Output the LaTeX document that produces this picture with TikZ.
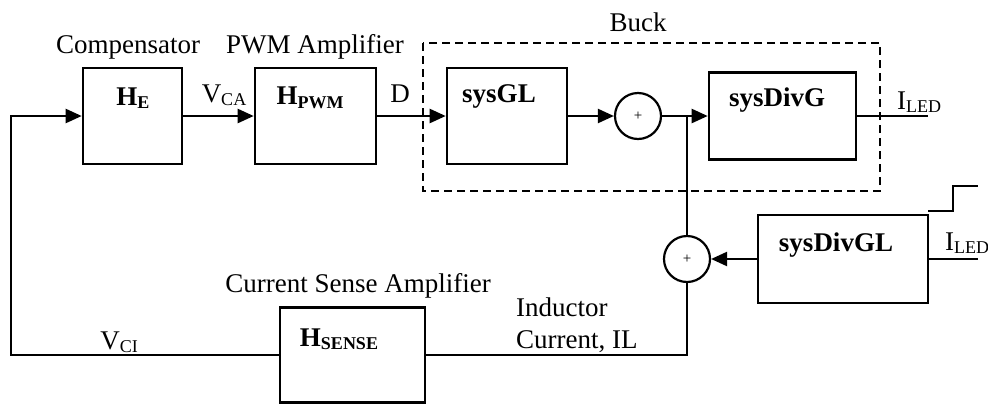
\documentclass[tikz,border=0pt]{standalone}
\usepackage{fontspec}
\setmainfont{Liberation Serif}
\usetikzlibrary{arrows.meta}
\newcommand{\mysub}[1]{\raisebox{-0.28ex}{\fontsize{18}{20}\selectfont #1}}
\begin{document}
\begin{tikzpicture}[x=1pt,y=-1pt,
  font=\fontsize{27}{32}\selectfont,
  blk/.style={draw, line width=2.6pt, inner sep=0pt},
  sumc/.style={draw, circle, line width=2.2pt, minimum size=46pt, inner sep=0pt, font=\fontsize{15}{16}\selectfont},
  wire/.style={line width=2.3pt},
  arr/.style={wire, -{Triangle[length=16pt,width=14pt]}},
  txt/.style={inner sep=0pt},
  btxt/.style={inner sep=0pt, font=\fontsize{27}{32}\selectfont\bfseries}]
\useasboundingbox (0,0) rectangle (988,405);
% blocks
\node[blk, minimum width=99pt, minimum height=96pt] (he) at (132.5,116) {};
\node[blk, minimum width=121pt, minimum height=96pt] (hpwm) at (315.5,116) {};
\node[blk, minimum width=120pt, minimum height=96pt] (gl) at (507,116) {};
\node[blk, minimum width=147pt, minimum height=87pt] (divg) at (782.5,116) {};
\node[blk, minimum width=170pt, minimum height=88pt] (divgl) at (843,259) {};
\node[blk, minimum width=145pt, minimum height=95pt] (sense) at (352.5,355) {};
\node[sumc] (s1) at (638,116) {+};
\node[sumc] (s2) at (687,259) {+};
% block texts
\node[btxt] (heT) at (133,98) {H\mysub{E}};
\node[btxt] (hpwmT) at (310,98) {H\mysub{PWM}};
\node[btxt] (glT) at (499,96) {sysGL};
\node[btxt] (divgT) at (777,100) {sysDivG};
\node[btxt] (divglT) at (836,245) {sysDivGL};
\node[btxt] (senseT) at (339,339) {H\mysub{SENSE}};
% labels
\node[txt] (compL) at (128,47) {Compensator};
\node[txt] (pwmL) at (315,47) {PWM Amplifier};
\node[txt] (buckL) at (638,22) {Buck};
\node[txt] (csaL) at (358,286) {Current Sense Amplifier};
\node[txt] (vcaL) at (224,95) {V\mysub{CA}};
\node[txt] (dL) at (400,94) {D};
\node[txt] (iled1) at (919,102) {I\mysub{LED}};
\node[txt] (iled2) at (967,243) {I\mysub{LED}};
\node[txt] (vciL) at (119,342) {V\mysub{CI}};
\node[txt, anchor=west, align=left] (indL) at (516,325) {Inductor\\Current, IL};
% buck dashed box
\draw[line width=2.2pt, dash pattern=on 8pt off 5pt] (423,43) rectangle (880,191);
% coordinates
\coordinate (j) at (687,116);
\coordinate (fbT) at (11,116);
\coordinate (fbB) at (11,355);
\coordinate (br) at (687,355);
\coordinate (o1) at (928,116);
\coordinate (o2) at (978,259);
% connectors
\draw[arr] (he.east) -- (hpwm.west);
\draw[arr] (hpwm.east) -- (gl.west);
\draw[arr] (gl.east) -- (s1.west);
\draw[arr] (s1.east) -- (divg.west);
\draw[wire] (divg.east) -- (o1);
\draw[wire] (j) -- (s2.north);
\draw[arr] (divgl.west) -- (s2.east);
\draw[wire] (divgl.east |- o2) -- (o2);
\draw[wire] (s2.south) -- (br) -- (sense.east);
\draw[arr] (sense.west) -- (fbB) -- (fbT) -- (he.west);
% step input
\draw[wire] (928,211) -- (953,211) -- (953,186) -- (978,186);
\end{tikzpicture}
\end{document}
